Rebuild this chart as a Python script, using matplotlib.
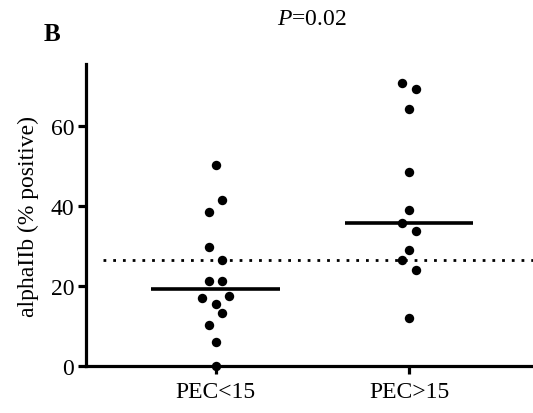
import numpy as np
import matplotlib.pyplot as plt
import matplotlib.transforms as mtransforms

plt.rcParams['font.family'] = ['Liberation Serif', 'DejaVu Serif']
plt.rcParams['mathtext.fontset'] = 'custom'
plt.rcParams['mathtext.rm'] = 'Liberation Serif'
plt.rcParams['mathtext.it'] = 'Liberation Serif:italic'

groups = ['PEC<15', 'PEC>15']
pec_low = [50.1, 41.5, 38.6, 29.7, 26.4, 21.3, 21.3, 17.0, 17.5, 15.5, 13.3, 10.3, 6.1, 0.0]
pec_high = [70.6, 69.2, 64.3, 48.5, 39.0, 35.7, 33.7, 29.0, 26.5, 24.0, 12.0]
p_text = '0.02'

# horizontal slot of each dot in the scatter column (beeswarm style)
slots_low = [0, 1, -1, -1, 1, -1, 1, -2, 2, 0, 1, -1, 0, 0]
slots_high = [-1, 1, 0, 0, 0, -1, 1, 0, -1, 1, 0]
step = 0.035

fig = plt.figure(figsize=(5.33, 4.14), dpi=100)
ax = fig.add_axes([0.1614, 0.1128, 0.8386, 0.730])

xmin, xmax = 0.33, 2.64
all_vals = np.array(pec_low + pec_high)
cutoff = np.median(all_vals)
ax.hlines(cutoff, 0.42, xmax, colors='black', linestyles=(0, (1, 2.5)), lw=2.0)

for i, (vals, slots) in enumerate([(pec_low, slots_low), (pec_high, slots_high)]):
    xc = i + 1
    xs = xc + np.array(slots) * step
    ax.scatter(xs, vals, s=46, color='black', zorder=4, clip_on=False, linewidths=0)
    med = np.median(vals)
    ax.hlines(med, xc - 0.332, xc + 0.332, colors='black', lw=2.6, zorder=3)

ax.set_xlim(xmin, xmax)
ax.set_ylim(0, 75.4)
ax.set_xticks([1, 2])
ax.set_xticklabels(groups)
ax.set_yticks([0, 20, 40, 60])

for side in ['top', 'right']:
    ax.spines[side].set_visible(False)
for side in ['left', 'bottom']:
    ax.spines[side].set_linewidth(2.3)
ax.tick_params(axis='both', width=2.3, length=5.5, labelsize=17, direction='out')
ax.tick_params(axis='y', pad=3)
ax.tick_params(axis='x', pad=5)

ax.set_ylabel('alphaIIb (% positive)', fontsize=17, labelpad=8)

fig.text(44 / 533, 1 - 41 / 414, 'B', fontsize=18, fontweight='bold', va='baseline', ha='left')

# p-value centred between the two groups, near the top of the figure
top_trans = mtransforms.blended_transform_factory(ax.transData, fig.transFigure)
ax.text(1.5, 1 - 25 / 414, r'$\mathit{P}$=' + p_text, transform=top_trans,
        fontsize=17, ha='center', va='baseline')

fig.savefig('out.png', dpi=100)
